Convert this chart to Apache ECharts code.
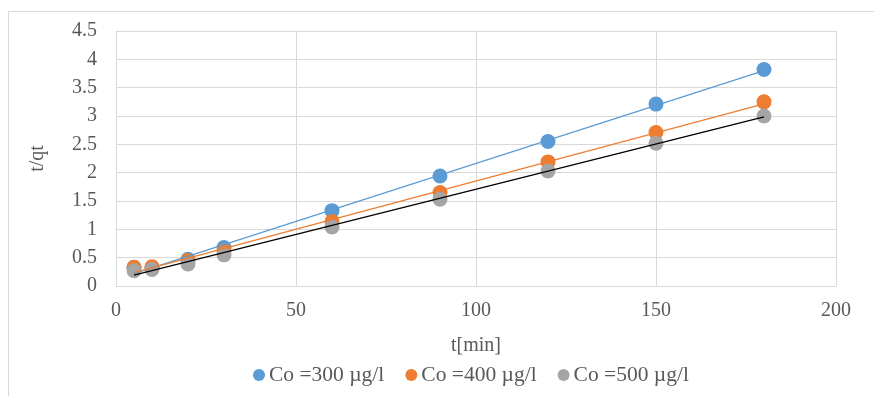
<!DOCTYPE html>
<html><head><meta charset="utf-8">
<script src="https://cdn.jsdelivr.net/npm/echarts@6/dist/echarts.min.js"></script>
<style>html,body{margin:0;padding:0;background:#fff}#c{width:874px;height:396px}</style>
</head><body><div id="c"></div>
<script>
const times = [5, 10, 20, 30, 60, 90, 120, 150, 180];
const co300 = [0.33, 0.33, 0.47, 0.68, 1.33, 1.94, 2.55, 3.21, 3.82];
const co400 = [0.33, 0.34, 0.45, 0.62, 1.14, 1.65, 2.19, 2.71, 3.25];
const co500 = [0.27, 0.29, 0.39, 0.55, 1.04, 1.53, 2.03, 2.52, 3.00];
const seriesNames = ['Co =300 µg/l', 'Co =400 µg/l', 'Co =500 µg/l'];
const colors = ['#5b9bd5', '#ed7d31', '#a5a5a5'];
const trendColors = ['#5b9bd5', '#ed7d31', '#000000'];

function fit(xs, ys) {
  const n = xs.length;
  let sx = 0, sy = 0, sxx = 0, sxy = 0;
  for (let i = 0; i < n; i++) { sx += xs[i]; sy += ys[i]; sxx += xs[i]*xs[i]; sxy += xs[i]*ys[i]; }
  const b = (n*sxy - sx*sy) / (n*sxx - sx*sx);
  const a = (sy - b*sx) / n;
  const x0 = xs[0], x1 = xs[n-1];
  return [[x0, a + b*x0], [x1, a + b*x1]];
}

const allY = [co300, co400, co500];
const font = 'Liberation Serif';
const series = [];
allY.forEach((ys, i) => {
  series.push({
    name: seriesNames[i], type: 'scatter', symbol: 'circle', symbolSize: 15,
    itemStyle: { color: colors[i], opacity: 1 }, z: 2 + i,
    data: times.map((t, k) => [t, ys[k]])
  });
});
allY.forEach((ys, i) => {
  series.push({
    name: 'trend' + i, type: 'line', showSymbol: false, symbol: 'none', silent: true, z: 10,
    lineStyle: { color: trendColors[i], width: 1.3 },
    data: fit(times, ys)
  });
});

const chart = echarts.init(document.getElementById('c'), null, { renderer: 'canvas' });
chart.setOption({
  animation: false,
  backgroundColor: '#fff',
  graphic: [{ type: 'rect', shape: { x: 8.5, y: 11.5, width: 900, height: 500 }, style: { fill: 'none', stroke: '#d9d9d9', lineWidth: 1 }, silent: true }],
  grid: { left: 116, right: 38, top: 31, bottom: 110 },
  legend: {
    data: seriesNames.map(n => ({ name: n, icon: 'circle' })),
    top: 359, left: 248, itemWidth: 12, itemHeight: 12, itemGap: 21,
    textStyle: { fontFamily: font, fontSize: 21.5, color: '#595959', padding: [0, 0, 0, -1] }
  },
  xAxis: {
    type: 'value', min: 0, max: 200, interval: 50,
    name: 't[min]', nameLocation: 'middle', nameGap: 50,
    nameTextStyle: { fontFamily: font, fontSize: 20, color: '#595959' },
    axisLine: { show: true, lineStyle: { color: '#d9d9d9', width: 1 } },
    axisTick: { show: false },
    axisLabel: { fontFamily: font, fontSize: 20, color: '#595959', margin: 15 },
    splitLine: { show: true, lineStyle: { color: '#d9d9d9', width: 1 } }
  },
  yAxis: {
    type: 'value', min: 0, max: 4.5, interval: 0.5,
    name: 't/qt', nameLocation: 'middle', nameGap: 68, nameRotate: 90,
    nameTextStyle: { fontFamily: font, fontSize: 20, color: '#595959' },
    axisLine: { show: true, lineStyle: { color: '#d9d9d9', width: 1 } },
    axisTick: { show: false },
    axisLabel: { fontFamily: font, fontSize: 20, color: '#595959', margin: 19 },
    splitLine: { show: true, lineStyle: { color: '#d9d9d9', width: 1 } }
  },
  series: series
});
</script></body></html>
